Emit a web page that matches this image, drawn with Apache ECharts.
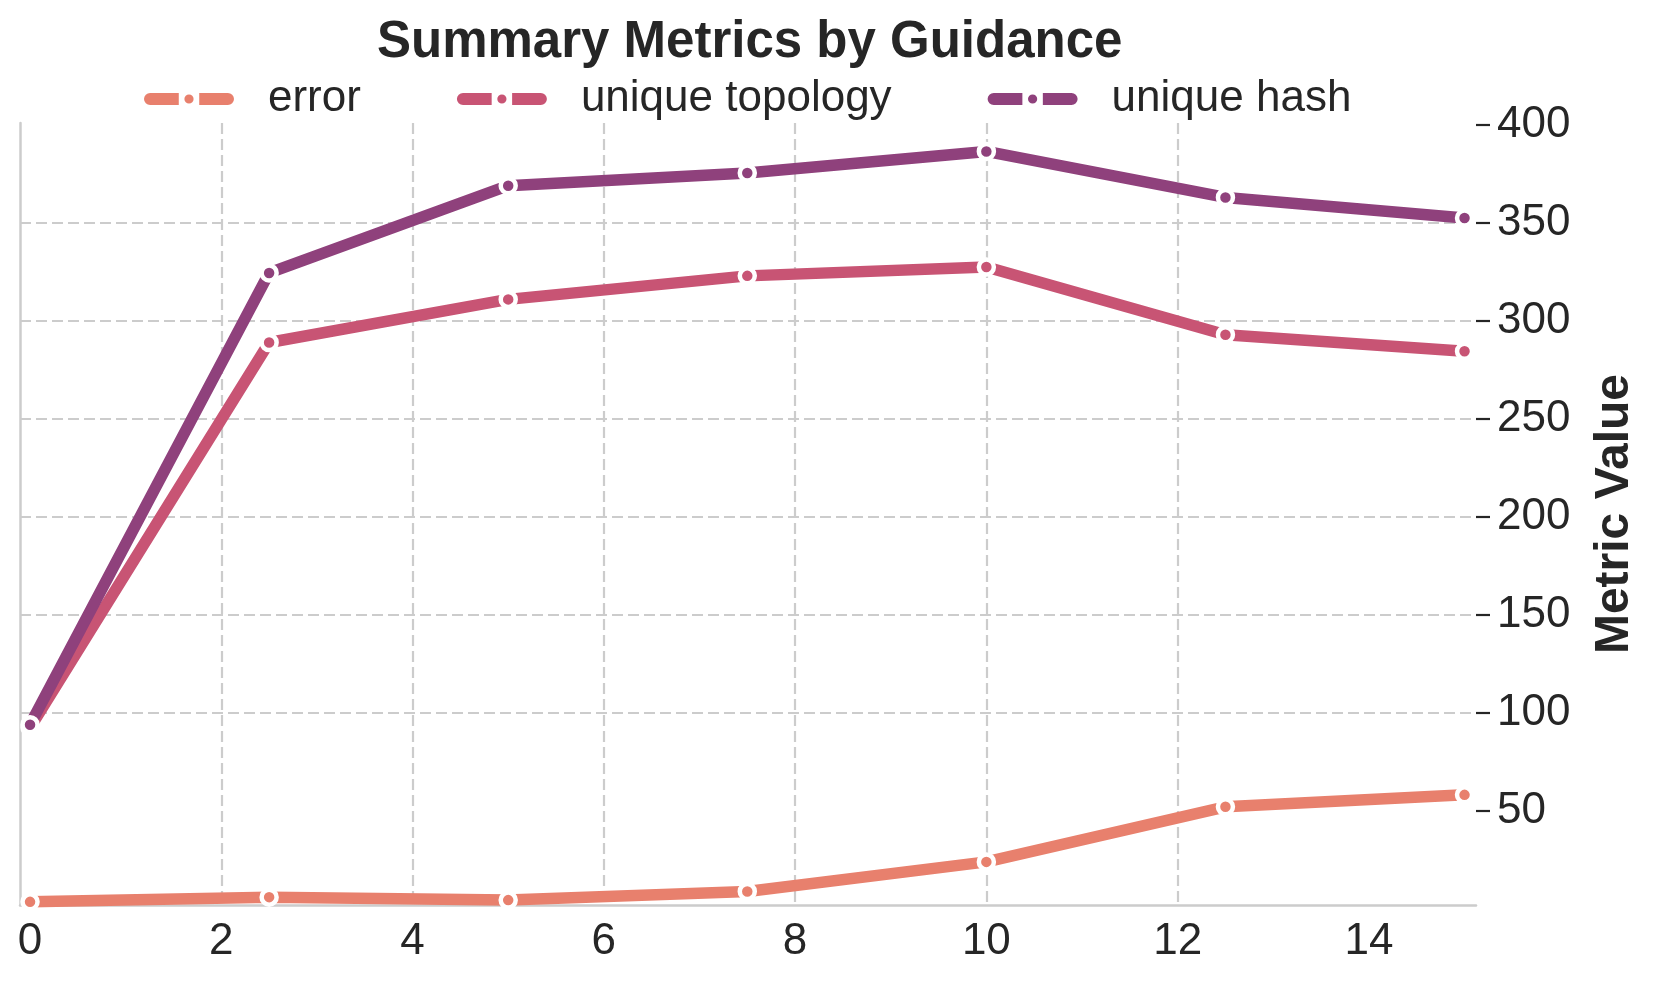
<!DOCTYPE html>
<html>
<head>
<meta charset="utf-8">
<script src="https://cdn.jsdelivr.net/npm/echarts@6/dist/echarts.min.js"></script>
<style>
html,body{margin:0;padding:0;background:#fff;}
#chart{width:1661px;height:987px;}
</style>
</head>
<body>
<div id="chart"></div>
<script>
const guidance = [0, 2.5, 5, 7.5, 10, 12.5, 15];
const errorVals = [3.6, 6.0, 4.5, 8.9, 24.0, 52.1, 58.2];
const topologyVals = [92.5, 289, 311, 323, 327.5, 293, 284.5];
const hashVals = [94, 324.5, 369, 375.5, 386.5, 363, 352.5];
const xTicks = [0, 2, 4, 6, 8, 10, 12, 14];
const yTicks = [50, 100, 150, 200, 250, 300, 350, 400];
const seriesNames = ['error', 'unique topology', 'unique hash'];
const seriesColors = ['#e8806d', '#c85474', '#8f417c'];

const FONT = '"Liberation Sans", Arial, Helvetica, sans-serif';
const TXT = '#262626';
// legend handle: rounded bar with a white gap and a dot in the middle
const HANDLE = 'path://M6,0 L34,0 L34,12 L6,12 A6,6 0 0 1 6,0 Z M54,0 L82,0 A6,6 0 0 1 82,12 L54,12 Z M39.5,6 A4.5,4.5 0 1 0 48.5,6 A4.5,4.5 0 1 0 39.5,6 Z';

const chart = echarts.init(document.getElementById('chart'), null, {renderer: 'canvas'});

function pairs(vals) { return guidance.map((g, i) => [g, vals[i]]); }
const allVals = [errorVals, topologyVals, hashVals];
const gridLine = {show: true, showMinLine: false, showMaxLine: false, lineStyle: {color: '#cccccc', width: 2.2, type: [11, 5]}};

const option = {
  backgroundColor: '#ffffff',
  animation: false,
  textStyle: {fontFamily: FONT},
  title: {
    text: 'Summary Metrics by Guidance',
    left: 372, top: 12,
    textStyle: {fontFamily: FONT, fontSize: 51, fontWeight: 'bold', color: TXT}
  },
  legend: {
    data: seriesNames.map((n, i) => ({
      name: n,
      icon: HANDLE,
      itemStyle: {color: seriesColors[i], borderWidth: 0}
    })),
    left: 139, top: 72,
    itemWidth: 90, itemHeight: 12, itemGap: 96,
    symbolKeepAspect: false,
    textStyle: {fontFamily: FONT, fontSize: 44, color: TXT, padding: [0, 0, 0, 29]}
  },
  grid: {left: 20, right: 185, top: 123, bottom: 82, containLabel: false, outerBoundsMode: 'none'},
  xAxis: {
    type: 'value',
    min: -0.105, max: 15.12,
    splitNumber: 8, minInterval: 2, maxInterval: 2,
    axisLine: {show: true, onZero: false, lineStyle: {color: '#cccccc', width: 2.5}},
    axisTick: {show: false, customValues: xTicks},
    axisLabel: {customValues: xTicks, fontFamily: FONT, fontSize: 44, color: TXT, margin: 15},
    splitLine: gridLine
  },
  yAxis: [{
    type: 'value',
    position: 'right',
    min: 2, max: 401,
    splitNumber: 8, minInterval: 50, maxInterval: 50,
    name: 'Metric Value',
    nameLocation: 'middle', nameRotate: 90, nameGap: 115,
    nameTextStyle: {fontFamily: FONT, fontSize: 48, fontWeight: 'bold', color: TXT},
    axisLine: {show: false, onZero: false},
    axisTick: {show: true, inside: false, length: 14, customValues: yTicks, lineStyle: {color: TXT, width: 2.2}},
    axisLabel: {customValues: yTicks, fontFamily: FONT, fontSize: 44, color: TXT, margin: 21},
    splitLine: gridLine
  }, {
    type: 'value',
    position: 'left',
    min: 2, max: 401,
    axisLine: {show: true, onZero: false, lineStyle: {color: '#cccccc', width: 2.5}},
    axisTick: {show: false},
    axisLabel: {show: false},
    splitLine: {show: false}
  }],
  series: seriesNames.map((name, i) => ({
    name: name,
    type: 'line',
    yAxisIndex: 0,
    data: pairs(allVals[i]),
    symbol: 'circle',
    symbolSize: 15,
    showSymbol: true,
    lineStyle: {color: seriesColors[i], width: 11.5, cap: 'round', join: 'round'},
    itemStyle: {color: seriesColors[i], borderColor: '#ffffff', borderWidth: 4.5},
    emphasis: {disabled: true},
    z: 2 + i
  }))
};
chart.setOption(option);
</script>
</body>
</html>
